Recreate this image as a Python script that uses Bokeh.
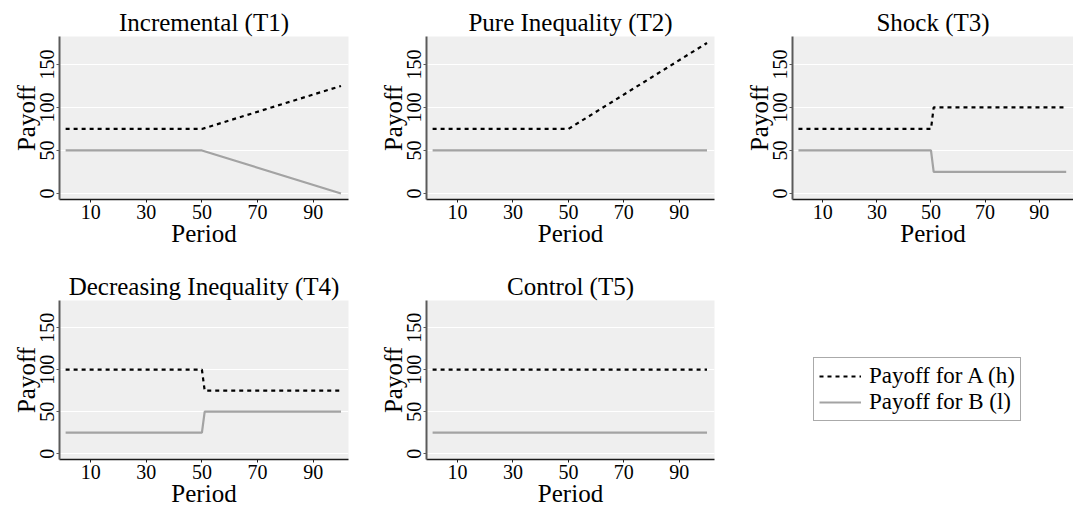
from bokeh.plotting import figure
from bokeh.layouts import row, column
from bokeh.models import Range1d, FixedTicker, Legend, LegendItem
from bokeh.embed import file_html
from bokeh.resources import INLINE

# ---- data (breakpoints) ----
titles = ["Incremental (T1)", "Pure Inequality (T2)", "Shock (T3)",
          "Decreasing Inequality (T4)", "Control (T5)"]

t1_period = [1, 50, 100]
t1_a = [75, 75, 125]
t1_b = [50, 50, 0]

t2_period = [1, 50, 100]
t2_a = [75, 75, 175]
t2_b = [50, 50, 50]

t3_period = [1, 50, 51, 100]
t3_a = [75, 75, 100, 100]
t3_b = [50, 50, 25, 25]

t4_period = [1, 50, 51, 100]
t4_a = [100, 100, 75, 75]
t4_b = [25, 25, 50, 50]

t5_period = [1, 100]
t5_a = [100, 100]
t5_b = [25, 25]

x_ticks = [10, 30, 50, 70, 90]
y_ticks = [0, 50, 100, 150]
legend_labels = ["Payoff for A (h)", "Payoff for B (l)"]

FONT = "Liberation Serif"
FH = 163
TOP = 36
LEFT = 59
A_COLOR = "black"
B_COLOR = "#A3A3A3"
DASH = "4 4"


def make_panel(title, px, a, b, fw, right_border, bottom_border):
    p = figure(width=LEFT + fw + right_border, height=TOP + FH + bottom_border,
               x_range=Range1d(-1.2, 102.7), y_range=Range1d(-7, 182.5),
               output_backend="svg", toolbar_location=None,
               min_border_left=LEFT, min_border_right=right_border,
               min_border_top=TOP, min_border_bottom=bottom_border,
               title=title)
    p.title.text_font = FONT
    p.title.text_font_size = "25px"
    p.title.text_font_style = "normal"
    p.title.align = "center"
    p.title.standoff = 1
    p.title.text_color = "black"
    p.background_fill_color = "#EFEFEF"
    p.border_fill_color = "white"
    p.outline_line_color = None
    p.xgrid.visible = False
    p.ygrid.grid_line_color = "white"
    p.ygrid.grid_line_width = 1.2
    p.ygrid.ticker = FixedTicker(ticks=y_ticks)

    p.xaxis.ticker = FixedTicker(ticks=x_ticks)
    p.yaxis.ticker = FixedTicker(ticks=y_ticks)
    p.xaxis.axis_label = "Period"
    p.yaxis.axis_label = "Payoff"
    for ax in (p.xaxis[0], p.yaxis[0]):
        ax.axis_label_text_font = FONT
        ax.axis_label_text_font_size = "25px"
        ax.axis_label_text_font_style = "normal"
        ax.axis_label_text_color = "black"
        ax.major_label_text_font = FONT
        ax.major_label_text_font_size = "20px"
        ax.major_label_text_color = "black"
        ax.major_tick_out = 3
        ax.major_tick_in = 0
        ax.minor_tick_out = 0
        ax.minor_tick_in = 0
        ax.major_label_standoff = 2
        ax.axis_label_standoff = -2
    p.yaxis.major_label_orientation = "vertical"
    p.yaxis.axis_line_color = "#5A5A5A"
    p.yaxis.axis_line_width = 2
    p.yaxis.major_tick_line_color = "#5A5A5A"
    p.xaxis.axis_line_color = "#1A1A1A"
    p.xaxis.axis_line_width = 1.5
    p.xaxis.major_tick_line_color = "#1A1A1A"

    p.line(px, b, line_color=B_COLOR, line_width=2.2)
    p.line(px, a, line_color=A_COLOR, line_width=2.2, line_dash=DASH)
    return p


p1 = make_panel(titles[0], t1_period, t1_a, t1_b, 289, 19, 65)
p2 = make_panel(titles[1], t2_period, t2_a, t2_b, 288, 19, 65)
p3 = make_panel(titles[2], t3_period, t3_a, t3_b, 281, 0, 65)
p4 = make_panel(titles[3], t4_period, t4_a, t4_b, 289, 19, 46)
p5 = make_panel(titles[4], t5_period, t5_a, t5_b, 288, 19, 46)

# legend panel: same borders as the other panels, legend placed inside the empty frame
LG_H = TOP + FH + 46
lg = figure(width=340, height=LG_H,
            x_range=Range1d(0, 1), y_range=Range1d(0, 1),
            x_axis_type=None, y_axis_type=None,
            output_backend="svg", toolbar_location=None,
            min_border_left=LEFT, min_border_right=0,
            min_border_top=TOP, min_border_bottom=46)
lg.outline_line_color = None
lg.xgrid.visible = False
lg.ygrid.visible = False
lg.background_fill_color = "white"
# legend-only renderers (their data lie outside this empty panel's ranges)
ra = lg.line(t5_period, t5_a, line_color=A_COLOR, line_width=2.2, line_dash=DASH)
rb = lg.line(t5_period, t5_b, line_color=B_COLOR, line_width=2.2)
legend = Legend(items=[LegendItem(label=legend_labels[0], renderers=[ra]),
                       LegendItem(label=legend_labels[1], renderers=[rb])],
                location=(21, 38))
legend.label_text_font = FONT
legend.label_text_font_size = "23px"
legend.label_text_color = "black"
legend.glyph_width = 42
legend.glyph_height = 24
legend.label_height = 24
legend.label_standoff = 8
legend.padding = 5
legend.spacing = 0
legend.margin = 0
legend.border_line_color = "#555555"
legend.border_line_width = 1
legend.background_fill_color = "white"
legend.background_fill_alpha = 1
lg.add_layout(legend, "center")

layout = column(row(p1, p2, p3), row(p4, p5, lg))

open("out.html", "w").write(file_html(layout, INLINE))
